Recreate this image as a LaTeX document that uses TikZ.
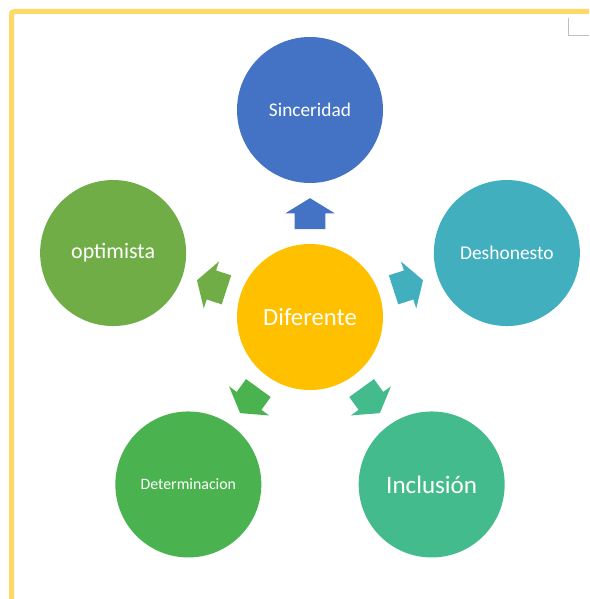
\documentclass[tikz,border=0pt]{standalone}
\usepackage{fontspec}
\setmainfont{Carlito}
\usepackage{tikz}
\definecolor{framegold}{HTML}{FFD966}
\definecolor{markgrey}{HTML}{C0C0C0}
\definecolor{centregold}{HTML}{FFC000}
\definecolor{sinblue}{HTML}{4472C4}
\definecolor{desteal}{HTML}{42AFBF}
\definecolor{incgreen}{HTML}{44BB8C}
\definecolor{detgreen}{HTML}{4AB350}
\definecolor{optgreen}{HTML}{70AD47}
\usetikzlibrary{shapes.arrows, positioning, calc}

\begin{document}
\begin{tikzpicture}[
    x=0.75pt, y=0.75pt,
    bubble/.style={circle, inner sep=0pt, minimum size=109.5pt,
                align=center, text=white},
    blockarrow/.style={single arrow, inner xsep=0pt, inner ysep=11.25pt,
                minimum height=23.25pt, single arrow head extend=7.1pt,
                single arrow tip angle=117, pos=0.42}
]
    \useasboundingbox (0,0) rectangle (589,599);

    % Frame
    \draw[framegold, line width=3.75pt, rounded corners=2pt]
        (11.5,0) -- (11.5,587.5) -- (589,587.5);
    \draw[markgrey, line width=0.75pt] (568,581) -- (568,563) -- (589,563);

    % Centre
    \node[bubble, fill=centregold, font=\fontsize{18.5}{22}\selectfont] (dif) at (310,282) {Diferente};

    % Outer ring
    \node[bubble, fill=sinblue, font=\fontsize{14.5}{17}\selectfont] (sin) at ($(dif)+(90:207)$) {Sinceridad};
    \node[bubble, fill=desteal, font=\fontsize{14.6}{17}\selectfont] (des) at ($(dif)+(18:207)$) {Deshonesto};
    \node[bubble, fill=incgreen, font=\fontsize{18.8}{22}\selectfont] (inc) at ($(dif)+(-54:207)$) {Inclusión};
    \node[bubble, fill=detgreen, font=\fontsize{11.9}{14}\selectfont] (det) at ($(dif)+(-126:207)$) {Determinacion};
    \node[bubble, fill=optgreen, font=\fontsize{16.5}{19}\selectfont] (opt) at ($(dif)+(162:207)$) {optimista};

    % Arrows
    \path (dif) -- node[blockarrow, rotate=90, fill=sinblue] (a1) {} (sin);
    \path (dif) -- node[blockarrow, rotate=18, fill=desteal] (a2) {} (des);
    \path (dif) -- node[blockarrow, rotate=-54, fill=incgreen] (a3) {} (inc);
    \path (dif) -- node[blockarrow, rotate=-126, fill=detgreen] (a4) {} (det);
    \path (dif) -- node[blockarrow, rotate=162, fill=optgreen] (a5) {} (opt);
\end{tikzpicture}
\end{document}
